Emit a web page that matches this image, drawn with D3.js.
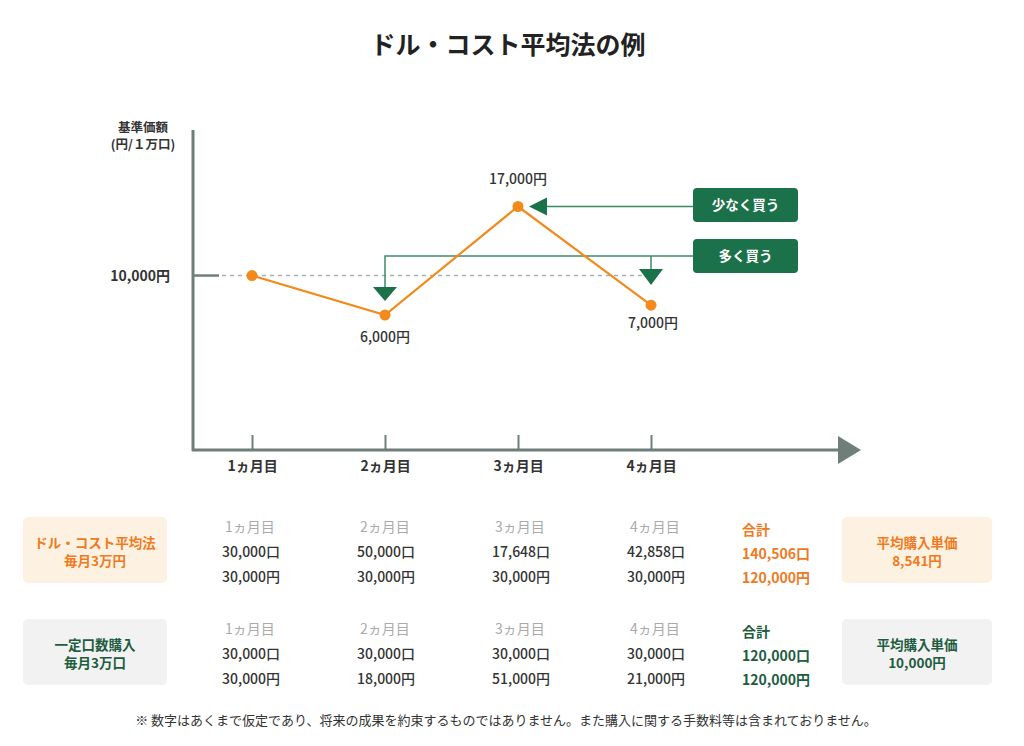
<!DOCTYPE html>
<html><head><meta charset="utf-8">
<script src="https://cdn.jsdelivr.net/npm/d3@7"></script>
<style>
html,body{margin:0;padding:0;background:#fff;}
svg{display:block;font-family:"Noto Sans CJK JP","Noto Sans",sans-serif;}
</style></head>
<body>
<svg id="c" width="1024" height="746"></svg>
<script>
const title = "ドル・コスト平均法の例";
const months = [1, 2, 3, 4];
const monthLabels = ["1ヵ月目", "2ヵ月目", "3ヵ月目", "4ヵ月目"];
const prices = [10000, 6000, 17000, 7000];
const priceLabels = ["10,000円", "6,000円", "17,000円", "7,000円"];
const yAxisTitle = ["基準価額", "(円/１万口)"];
const baseTickLabel = "10,000円";
const annotLess = "少なく買う";
const annotMore = "多く買う";

const dcaName = ["ドル・コスト平均法", "毎月3万円"];
const dcaUnits = ["30,000口", "50,000口", "17,648口", "42,858口"];
const dcaYen = ["30,000円", "30,000円", "30,000円", "30,000円"];
const dcaTotal = ["合計", "140,506口", "120,000円"];
const dcaAvg = ["平均購入単価", "8,541円"];

const fixName = ["一定口数購入", "毎月3万口"];
const fixUnits = ["30,000口", "30,000口", "30,000口", "30,000口"];
const fixYen = ["30,000円", "18,000円", "51,000円", "21,000円"];
const fixTotal = ["合計", "120,000口", "120,000円"];
const fixAvg = ["平均購入単価", "10,000円"];

const footnote = "※ 数字はあくまで仮定であり、将来の成果を約束するものではありません。また購入に関する手数料等は含まれておりません。";

const svg = d3.select("#c");
const AX = "#6e7f79", ORANGE = "#f28a1c", GREEN = "#1b7149", GLINE = "#3f8a66";
const x = d3.scaleLinear().domain([1, 4]).range([252, 651]);
const y = d3.scaleLinear().domain([6000, 17000]).range([315, 206.5]);

svg.append("text").attr("x", 508).attr("y", 54).attr("text-anchor", "middle")
  .attr("font-size", 25).attr("font-weight", 700).attr("fill", "#222").text(title);

// y axis title
yAxisTitle.forEach((t, i) => svg.append("text").attr("x", 143).attr("y", 132 + i * 17)
  .attr("text-anchor", "middle").attr("font-size", 12.5).attr("font-weight", 700).attr("fill", "#333").text(t));

// axes
const axisG = svg.append("g");
axisG.append("line").attr("x1", 193).attr("x2", 193).attr("y1", 130).attr("y2", 451)
  .attr("stroke", AX).attr("stroke-width", 3);
axisG.append("line").attr("x1", 192).attr("x2", 842).attr("y1", 450).attr("y2", 450)
  .attr("stroke", AX).attr("stroke-width", 3);
axisG.append("path").attr("d", "M838,436 L861,450 L838,464 Z").attr("fill", AX);

const xAxis = d3.axisBottom(x).tickValues(months).tickSize(0).tickFormat((d, i) => monthLabels[i]);
const xg = svg.append("g").attr("transform", "translate(0,450)").call(xAxis);
xg.select(".domain").remove();
xg.selectAll(".tick line").remove();
xg.selectAll(".tick").append("line").attr("y1", -15).attr("y2", 0).attr("stroke", AX).attr("stroke-width", 2);
xg.selectAll(".tick text").attr("dy", 0).attr("y", 21).attr("font-size", 14).attr("font-weight", 700)
  .attr("fill", "#333").attr("font-family", '"Noto Sans CJK JP",sans-serif');

// base tick
const yb = y(prices[0]);
svg.append("line").attr("x1", 193).attr("x2", 219).attr("y1", yb).attr("y2", yb).attr("stroke", AX).attr("stroke-width", 2.5);
svg.append("line").attr("x1", 222).attr("x2", 655).attr("y1", yb).attr("y2", yb)
  .attr("stroke", "#a9b2ae").attr("stroke-width", 1.5).attr("stroke-dasharray", "4,4");
svg.append("text").attr("x", 170).attr("y", yb + 5).attr("text-anchor", "end")
  .attr("font-size", 14).attr("font-weight", 700).attr("fill", "#333").text(baseTickLabel);

// annotations
const ann = svg.append("g");
const y17 = y(17000);
ann.append("line").attr("x1", 540).attr("x2", 694).attr("y1", y17).attr("y2", y17)
  .attr("stroke", GLINE).attr("stroke-width", 1.5);
ann.append("path").attr("d", `M${x(3)+11},${y17} L${x(3)+29},${y17-9} L${x(3)+29},${y17+9} Z`).attr("fill", GREEN);
ann.append("path").attr("d", `M${x(2)},288 L${x(2)},256 L694,256 M${x(4)},256 L${x(4)},270`)
  .attr("fill", "none").attr("stroke", GLINE).attr("stroke-width", 1.5);
ann.append("path").attr("d", `M${x(2)-12},287 L${x(2)+12},287 L${x(2)},301 Z`).attr("fill", GREEN);
ann.append("path").attr("d", `M${x(4)-12},269 L${x(4)+12},269 L${x(4)},285 Z`).attr("fill", GREEN);
[[188, annotLess], [239, annotMore]].forEach(([top, t]) => {
  ann.append("rect").attr("x", 693).attr("y", top).attr("width", 105).attr("height", 34).attr("rx", 4).attr("fill", GREEN);
  ann.append("text").attr("x", 745.5).attr("y", top + 22).attr("text-anchor", "middle")
    .attr("font-size", 13.5).attr("font-weight", 700).attr("fill", "#fff").text(t);
});

// line
const line = d3.line().x((d, i) => x(months[i])).y(d => y(d));
svg.append("path").datum(prices).attr("d", line).attr("fill", "none").attr("stroke", ORANGE).attr("stroke-width", 2.2);
svg.selectAll("circle.pt").data(prices).join("circle").attr("class", "pt")
  .attr("cx", (d, i) => x(months[i])).attr("cy", d => y(d)).attr("r", 5.5).attr("fill", ORANGE);
const lblOff = [null, 27, -23, 23];
prices.forEach((p, i) => {
  if (i === 0) return;
  svg.append("text").attr("x", x(months[i]) + (i === 3 ? 2 : 0)).attr("y", y(p) + lblOff[i])
    .attr("text-anchor", "middle").attr("font-size", 14).attr("font-weight", 500).attr("fill", "#333").text(priceLabels[i]);
});

// table
function row(top, bg, accent, name, units, yen, total, avg) {
  const g = svg.append("g");
  g.append("rect").attr("x", 23).attr("y", top).attr("width", 144).attr("height", 66).attr("rx", 5).attr("fill", bg);
  name.forEach((t, i) => g.append("text").attr("x", 95).attr("y", top + 31 + i * 18).attr("text-anchor", "middle")
    .attr("font-size", 13.5).attr("font-weight", 700).attr("fill", accent).text(t));
  months.forEach((m, i) => {
    const cx = x(m) - 30 + (i * 2);
    g.append("text").attr("x", cx + 3).attr("y", top + 15).attr("font-size", 14).attr("fill", "#aaa").text(monthLabels[i]);
    g.append("text").attr("x", cx).attr("y", top + 40).attr("font-size", 14).attr("font-weight", 500).attr("fill", "#333").text(units[i]);
    g.append("text").attr("x", cx).attr("y", top + 65).attr("font-size", 14).attr("font-weight", 500).attr("fill", "#333").text(yen[i]);
  });
  total.forEach((t, i) => g.append("text").attr("x", 742).attr("y", top + 18 + i * 24)
    .attr("font-size", 14).attr("font-weight", 700).attr("fill", accent).text(t));
  g.append("rect").attr("x", 842).attr("y", top).attr("width", 150).attr("height", 66).attr("rx", 5).attr("fill", bg);
  avg.forEach((t, i) => g.append("text").attr("x", 917).attr("y", top + 31 + i * 18).attr("text-anchor", "middle")
    .attr("font-size", 13.5).attr("font-weight", 700).attr("fill", accent).text(t));
}
row(517, "#fdf2e1", "#f07a22", dcaName, dcaUnits, dcaYen, dcaTotal, dcaAvg);
row(619, "#f2f2f2", "#1d5c3f", fixName, fixUnits, fixYen, fixTotal, fixAvg);

svg.append("text").attr("x", 506).attr("y", 725).attr("text-anchor", "middle")
  .attr("font-size", 13).attr("fill", "#333").text(footnote);
</script>
</body></html>
